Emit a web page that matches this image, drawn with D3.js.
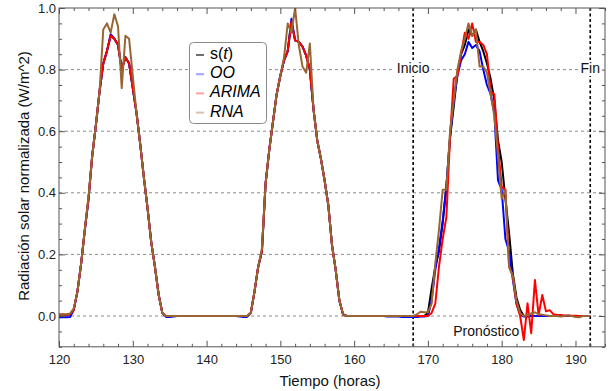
<!DOCTYPE html>
<html><head><meta charset="utf-8">
<script src="https://cdn.jsdelivr.net/npm/d3@7/dist/d3.min.js"></script>
<style>body{margin:0;background:#fff}svg{display:block}text{font-family:"Liberation Sans",Arial,sans-serif}</style>
</head><body><svg id="chart" width="614" height="391"></svg>
<script>
// ---- data (half-hour samples from hour 120 to 192) ----
const startHour = 120;
const stepHours = 0.5;
const seriesNames = ["s(t)", "OO", "ARIMA", "RNA"];

const sT = [
 0.004,0.004,0.004,0.005, 0.02,0.08,0.17,0.28,0.38,0.52,0.62,0.73,0.82,0.86,0.91,0.90,0.88,0.80,0.84,0.82,0.74,0.66,0.56,0.45,0.35,0.24,0.16,0.07,0.01,0.0,
 0,0,0,0,0,0,0,0,0,0,0,0,0,0,0,0,0,0,0,0,0,
 0.0,0.01,0.08,0.16,0.21,0.43,0.54,0.63,0.72,0.78,0.83,0.86,0.955,0.895,0.89,0.875,0.845,0.80,0.67,0.57,0.51,0.44,0.36,0.23,0.15,0.05,0.005,
 0,0,0,0,0,0,0,0,0,0,0,0,0,0,0,0,0,0,
 0,0,0,0,
 0.01,0.09,0.16,0.21,0.30,0.42,0.58,0.68,0.79,0.85,0.88,0.93,0.91,0.93,0.89,0.86,0.82,0.77,0.70,0.57,0.50,0.38,0.27,0.14,0.06,0.02,
 0,0,0,0,0,0,0,0,0,0,0,0,0,0,0,0,0,0,0
];
const oo = [
 -0.004,-0.004,-0.004,-0.003, 0.02,0.08,0.17,0.28,0.38,0.52,0.62,0.73,0.82,0.86,0.915,0.90,0.88,0.80,0.84,0.82,0.74,0.66,0.56,0.45,0.35,0.24,0.16,0.07,0.01,-0.003,
 -0.003,-0.002,0,0,0,0,0,0,0,0,0,0,0,0,0,0,0,0,0,-0.002,-0.003,
 -0.003,0.01,0.08,0.16,0.21,0.43,0.54,0.63,0.72,0.78,0.83,0.86,0.965,0.895,0.89,0.875,0.845,0.80,0.67,0.57,0.51,0.44,0.36,0.23,0.15,0.05,0.005,
 0,0,0,0,0,0,0,0,0,0,0,-0.002,-0.002,-0.002,-0.002,-0.003,-0.003,-0.003,
 -0.003,-0.003,-0.002,-0.002,
 0.0,0.05,0.15,0.22,0.31,0.42,0.58,0.70,0.78,0.83,0.85,0.89,0.87,0.88,0.86,0.80,0.75,0.72,0.66,0.44,0.41,0.25,0.21,0.12,0.04,0.005,
 -0.002,-0.002,0,0,0,0,0,0,0,0,0,0,0,0,0,0,0,0,0
];
const arima = [
 0.005,0.005,0.004,0.006, 0.02,0.08,0.17,0.28,0.38,0.52,0.62,0.73,0.82,0.86,0.91,0.90,0.88,0.80,0.84,0.82,0.74,0.66,0.56,0.45,0.35,0.24,0.16,0.07,0.01,0.0,
 0,0,0,0,0,0,0,0,0,0,0,0,0,0,0,0,0,0,0,0,0,
 0.0,0.01,0.08,0.16,0.21,0.43,0.54,0.63,0.72,0.78,0.83,0.86,0.955,0.895,0.89,0.875,0.845,0.80,0.67,0.57,0.51,0.44,0.36,0.23,0.15,0.05,0.005,
 0,0,0,0,0,0,0,0,0,0,0,0,0,0,0,0,0,0,
 0,0,0,0,
 0.0,0.01,0.04,0.16,0.25,0.32,0.58,0.77,0.78,0.85,0.92,0.90,0.95,0.89,0.89,0.88,0.85,0.73,0.72,0.55,0.42,0.41,0.16,0.13,0.04,0.0,
 -0.078,0.041,-0.056,0.117,0.003,0.068,0.015,0.019,0.006,0.004,0.003,0.002,0.002,0.001,0.001,0,0,0,0
];
const rna = [
 0.005,0.005,0.005,0.008, 0.025,0.08,0.17,0.28,0.39,0.52,0.62,0.73,0.93,0.95,0.92,0.98,0.94,0.74,0.91,0.90,0.78,0.66,0.56,0.45,0.35,0.24,0.16,0.07,0.01,0.0,
 0,0,0,0,0,0,0,0,0,0,0,0,0,0,0,0,0,0,0,0,0,
 0.0,0.01,0.08,0.16,0.22,0.43,0.54,0.63,0.72,0.78,0.84,0.95,0.92,1.00,0.88,0.81,0.79,0.885,0.67,0.57,0.51,0.44,0.36,0.23,0.15,0.05,0.005,
 0,0,0,0,0,0,0,0,0,0,0,0,0,0,0,0,0,0,
 0.0,0.005,0.014,0.012,
 0.012,0.04,0.17,0.28,0.41,0.41,0.60,0.70,0.80,0.86,0.90,0.95,0.91,0.93,0.81,0.81,0.79,0.72,0.65,0.52,0.38,0.41,0.16,0.13,0.05,0.01,
 0.0,0.003,0.008,0.012,0.006,0.004,0.002,0,0,0,-0.002,0,0.002,0,-0.003,-0.004,0,0,0
];

const xTickValues = [120, 130, 140, 150, 160, 170, 180, 190];
const yTickValues = [0.0, 0.2, 0.4, 0.6, 0.8, 1.0];
const gridValues = [0.0, 0.2, 0.4, 0.6, 0.8];
const markerHours = [168, 192];
const markerLabels = ["Inicio", "Fin"];
const markerLabelLevel = 0.8;
const forecastLabel = "Pronóstico";
const forecastLabelPos = [177.9, -0.05];
const xTitle = "Tiempo (horas)";
const yTitle = "Radiación solar normalizada (W/m^2)";

// ---- styles ----
const lineColors = ["#000000", "#0000ff", "#ff0000", "#996633"];
const swatchColors = ["#707070", "#a0a0ff", "#ffa0a0", "#d9c3ad"];
const frameColor = "#555";

const svg = d3.select("#chart");
const L = 59, R = 605, T = 8, B = 346.8;
const x = d3.scaleLinear().domain([120, 194]).range([L, R]);
const y = d3.scaleLinear().domain([-0.1, 1.0]).range([B, T]);

svg.append("defs").append("clipPath").attr("id", "clip")
  .append("rect").attr("x", L).attr("y", T).attr("width", R - L).attr("height", B - T);

// grid
svg.append("g").selectAll("line").data(gridValues).join("line")
  .attr("x1", L).attr("x2", R).attr("y1", d => y(d)).attr("y2", d => y(d))
  .attr("stroke", "#8a8a8a").attr("stroke-width", 1).attr("stroke-dasharray", "3,3");

// vertical markers
svg.append("g").selectAll("line").data(markerHours).join("line")
  .attr("x1", d => x(d)).attr("x2", d => x(d)).attr("y1", T).attr("y2", B)
  .attr("stroke", "#000").attr("stroke-width", 1.6).attr("stroke-dasharray", "3,2.5");

// series
const allSeries = [sT, oo, arima, rna];
const lineGen = d3.line().x((d, i) => x(startHour + i * stepHours)).y(d => y(d));
const gLines = svg.append("g").attr("clip-path", "url(#clip)");
allSeries.forEach((s, k) => {
  gLines.append("path").datum(s).attr("d", lineGen)
    .attr("fill", "none").attr("stroke", lineColors[k]).attr("stroke-width", 2)
    .attr("stroke-linejoin", "round");
});

// axes (ticks inward)
const xMinor = d3.range(120, 195, 2).filter(v => v % 10 !== 0);
const yMinor = d3.range(-0.1, 1.0001, 0.05).map(v => +v.toFixed(2)).filter(v => Math.round(v * 100) % 20 !== 0);

function styleAxis(g) {
  g.select(".domain").remove();
  g.selectAll("line").attr("stroke", frameColor);
  g.selectAll("text").attr("fill", "#222").style("font-size", "13px").style("font-family", '"Liberation Sans", Arial, sans-serif');
}
svg.append("g").attr("transform", `translate(0,${B})`)
  .call(d3.axisBottom(x).tickValues(xTickValues).tickSize(-6).tickSizeOuter(0).tickPadding(8).tickFormat(d3.format("d"))).call(styleAxis);
svg.append("g").attr("transform", `translate(0,${B})`)
  .call(d3.axisBottom(x).tickValues(xMinor).tickSize(-3).tickSizeOuter(0).tickFormat("")).call(styleAxis);
svg.append("g").attr("transform", `translate(0,${T})`)
  .call(d3.axisTop(x).tickValues(xTickValues).tickSize(-6).tickSizeOuter(0).tickFormat("")).call(styleAxis);
svg.append("g").attr("transform", `translate(0,${T})`)
  .call(d3.axisTop(x).tickValues(xMinor).tickSize(-3).tickSizeOuter(0).tickFormat("")).call(styleAxis);
svg.append("g").attr("transform", `translate(${L},0)`)
  .call(d3.axisLeft(y).tickValues(yTickValues).tickSize(-6).tickSizeOuter(0).tickPadding(3).tickFormat(d3.format(".1f"))).call(styleAxis);
svg.append("g").attr("transform", `translate(${L},0)`)
  .call(d3.axisLeft(y).tickValues(yMinor).tickSize(-3).tickSizeOuter(0).tickFormat("")).call(styleAxis);
svg.append("g").attr("transform", `translate(${R},0)`)
  .call(d3.axisRight(y).tickValues(yTickValues).tickSize(-6).tickSizeOuter(0).tickFormat("")).call(styleAxis);
svg.append("g").attr("transform", `translate(${R},0)`)
  .call(d3.axisRight(y).tickValues(yMinor).tickSize(-3).tickSizeOuter(0).tickFormat("")).call(styleAxis);

// frame
svg.append("rect").attr("x", L).attr("y", T).attr("width", R - L).attr("height", B - T)
  .attr("fill", "none").attr("stroke", frameColor).attr("stroke-width", 1);

// marker labels with white background
markerHours.forEach((h, i) => {
  const g = svg.append("g");
  const t = g.append("text").attr("x", x(h)).attr("y", y(markerLabelLevel) + 3.5)
    .attr("text-anchor", "middle").attr("fill", "#111").style("font-size", "14px").text(markerLabels[i]);
  const bb = t.node().getBBox();
  g.insert("rect", "text").attr("x", bb.x - 2).attr("y", bb.y).attr("width", bb.width + 4).attr("height", bb.height)
    .attr("fill", "#fff");
});
svg.append("text").attr("x", x(forecastLabelPos[0])).attr("y", y(forecastLabelPos[1]) + 5)
  .attr("text-anchor", "middle").attr("fill", "#111").style("font-size", "14px").text(forecastLabel);

// axis titles
svg.append("text").attr("x", 330).attr("y", 386).attr("text-anchor", "middle")
  .attr("fill", "#111").style("font-size", "15px").text(xTitle);
svg.append("text").attr("transform", "translate(29,176) rotate(-90)").attr("text-anchor", "middle")
  .attr("fill", "#111").style("font-size", "15px").text(yTitle);

// legend
const lg = svg.append("g");
lg.append("rect").attr("x", 189.5).attr("y", 42.5).attr("width", 77).attr("height", 81).attr("rx", 4)
  .attr("fill", "#fff").attr("stroke", "#8a8a8a").attr("stroke-width", 1);
seriesNames.forEach((name, i) => {
  const by = 59 + i * 19.2;
  lg.append("line").attr("x1", 196).attr("x2", 204).attr("y1", by - 4).attr("y2", by - 4)
    .attr("stroke", swatchColors[i]).attr("stroke-width", 2);
  const t = lg.append("text").attr("x", 210).attr("y", by).attr("fill", "#000").style("font-size", "16px");
  if (name === "s(t)") {
    t.append("tspan").text("s(");
    t.append("tspan").style("font-style", "italic").text("t");
    t.append("tspan").text(")");
  } else {
    t.style("font-style", "italic").text(name);
  }
});
</script></body></html>
